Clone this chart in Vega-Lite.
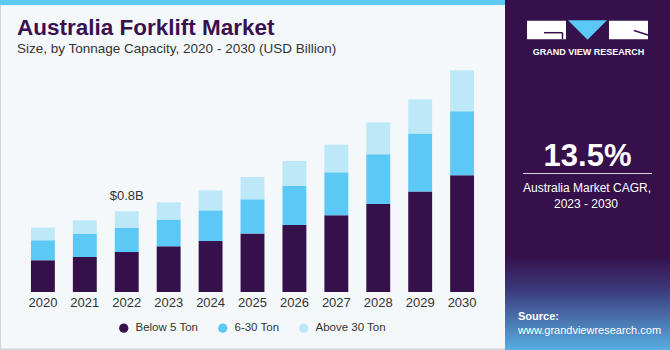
{
  "$schema": "https://vega.github.io/schema/vega-lite/v6.json",
  "width": 485,
  "height": 222,
  "autosize": {"type": "none"},
  "padding": {"left": 10, "top": 70, "right": 175, "bottom": 58},
  "background": "#F4F8FB",
  "config": {"view": {"stroke": null}},
  "datasets": {
    "bars": [
      {"year": "2020", "segment": "Below 5 Ton", "value": 0.314},
      {"year": "2020", "segment": "6-30 Ton", "value": 0.198},
      {"year": "2020", "segment": "Above 30 Ton", "value": 0.126},
      {"year": "2021", "segment": "Below 5 Ton", "value": 0.347},
      {"year": "2021", "segment": "6-30 Ton", "value": 0.228},
      {"year": "2021", "segment": "Above 30 Ton", "value": 0.136},
      {"year": "2022", "segment": "Below 5 Ton", "value": 0.396},
      {"year": "2022", "segment": "6-30 Ton", "value": 0.242},
      {"year": "2022", "segment": "Above 30 Ton", "value": 0.162},
      {"year": "2023", "segment": "Below 5 Ton", "value": 0.453},
      {"year": "2023", "segment": "6-30 Ton", "value": 0.265},
      {"year": "2023", "segment": "Above 30 Ton", "value": 0.171},
      {"year": "2024", "segment": "Below 5 Ton", "value": 0.505},
      {"year": "2024", "segment": "6-30 Ton", "value": 0.304},
      {"year": "2024", "segment": "Above 30 Ton", "value": 0.198},
      {"year": "2025", "segment": "Below 5 Ton", "value": 0.579},
      {"year": "2025", "segment": "6-30 Ton", "value": 0.340},
      {"year": "2025", "segment": "Above 30 Ton", "value": 0.221},
      {"year": "2026", "segment": "Below 5 Ton", "value": 0.664},
      {"year": "2026", "segment": "6-30 Ton", "value": 0.387},
      {"year": "2026", "segment": "Above 30 Ton", "value": 0.248},
      {"year": "2027", "segment": "Below 5 Ton", "value": 0.760},
      {"year": "2027", "segment": "6-30 Ton", "value": 0.426},
      {"year": "2027", "segment": "Above 30 Ton", "value": 0.275},
      {"year": "2028", "segment": "Below 5 Ton", "value": 0.872},
      {"year": "2028", "segment": "6-30 Ton", "value": 0.493},
      {"year": "2028", "segment": "Above 30 Ton", "value": 0.317},
      {"year": "2029", "segment": "Below 5 Ton", "value": 0.995},
      {"year": "2029", "segment": "6-30 Ton", "value": 0.575},
      {"year": "2029", "segment": "Above 30 Ton", "value": 0.340},
      {"year": "2030", "segment": "Below 5 Ton", "value": 1.157},
      {"year": "2030", "segment": "6-30 Ton", "value": 0.634},
      {"year": "2030", "segment": "Above 30 Ton", "value": 0.406}
    ],
    "labels": [{"year": "2022", "total": 0.8, "label": "$0.8B"}],
    "panel": [
      {"key": "title", "text": "Australia Forklift Market"},
      {"key": "subtitle", "text": "Size, by Tonnage Capacity, 2020 - 2030 (USD Billion)"},
      {"key": "brand", "text": "GRAND VIEW RESEARCH"},
      {"key": "cagr", "text": "13.5%"},
      {"key": "cagr1", "text": "Australia Market CAGR,"},
      {"key": "cagr2", "text": "2023 - 2030"},
      {"key": "src1", "text": "Source:"},
      {"key": "src2", "text": "www.grandviewresearch.com"}
    ]
  },
  "layer": [
    {
      "layer": [
        {
          "data": {"values": [{}]},
          "mark": {"type": "rect", "color": "#5BC8F5"},
          "encoding": {
            "x": {"datum": 0, "type": "quantitative", "scale": {"domain": [0, 670], "range": [-10, 660], "nice": false, "zero": false}, "axis": null},
            "x2": {"datum": 505},
            "y": {"datum": 0, "type": "quantitative", "scale": {"domain": [0, 350], "range": [-70, 280], "nice": false, "zero": false}, "axis": null},
            "y2": {"datum": 5}
          }
        },
        {
          "data": {"values": [{}]},
          "mark": {"type": "rect", "color": "#CFD5DA"},
          "encoding": {
            "x": {"datum": 0, "type": "quantitative"},
            "x2": {"datum": 505},
            "y": {"datum": 348.5, "type": "quantitative"},
            "y2": {"datum": 350}
          }
        },
        {
          "data": {"values": [{}]},
          "mark": {"type": "rect", "color": "#CFD5DA"},
          "encoding": {
            "x": {"datum": 0, "type": "quantitative"},
            "x2": {"datum": 1},
            "y": {"datum": 5, "type": "quantitative"},
            "y2": {"datum": 350}
          }
        },
        {
          "data": {"values": [{}]},
          "mark": {"type": "rect", "color": "#36104A"},
          "encoding": {
            "x": {"datum": 505, "type": "quantitative"},
            "x2": {"datum": 670},
            "y": {"datum": 0, "type": "quantitative"},
            "y2": {"datum": 350}
          }
        },
        {
          "data": {"values": [{}]},
          "mark": {
            "type": "rect",
            "fill": {
              "gradient": "linear", "x1": 0, "y1": 0, "x2": 0, "y2": 1,
              "stops": [
                {"offset": 0, "color": "#36104A"},
                {"offset": 0.35, "color": "#3B3778"},
                {"offset": 1, "color": "#58AEE2"}
              ]
            }
          },
          "encoding": {
            "x": {"datum": 505, "type": "quantitative"},
            "x2": {"datum": 670},
            "y": {"datum": 255, "type": "quantitative"},
            "y2": {"datum": 350}
          }
        },
        {
          "data": {"values": [{}]},
          "mark": {"type": "rect", "color": "white"},
          "encoding": {
            "x": {"datum": 527, "type": "quantitative"},
            "x2": {"datum": 566},
            "y": {"datum": 20.7, "type": "quantitative"},
            "y2": {"datum": 39.3}
          }
        },
        {
          "data": {"values": [{}]},
          "mark": {"type": "rect", "color": "white"},
          "encoding": {
            "x": {"datum": 609, "type": "quantitative"},
            "x2": {"datum": 648},
            "y": {"datum": 20.7, "type": "quantitative"},
            "y2": {"datum": 39.3}
          }
        },
        {
          "data": {"values": [{}]},
          "mark": {"type": "point", "filled": true, "color": "#5BC8F5", "opacity": 1, "shape": "M-1,-0.5L1,-0.5L0,0.5Z", "size": 1521},
          "encoding": {
            "x": {"datum": 587.5, "type": "quantitative"},
            "y": {"datum": 30, "type": "quantitative"}
          }
        },
        {
          "data": {"values": [{}]},
          "mark": {"type": "rule", "color": "#36104A", "strokeWidth": 1.5},
          "encoding": {
            "x": {"datum": 544, "type": "quantitative"},
            "x2": {"datum": 562.5},
            "y": {"datum": 32.7, "type": "quantitative"},
            "y2": {"datum": 32.7}
          }
        },
        {
          "data": {"values": [{}]},
          "mark": {"type": "rule", "color": "#36104A", "strokeWidth": 1.5},
          "encoding": {
            "x": {"datum": 562.5, "type": "quantitative"},
            "x2": {"datum": 562.5},
            "y": {"datum": 32.7, "type": "quantitative"},
            "y2": {"datum": 39.3}
          }
        },
        {
          "data": {"values": [{}]},
          "mark": {"type": "rule", "color": "#36104A", "strokeWidth": 1.5},
          "encoding": {
            "x": {"datum": 634, "type": "quantitative"},
            "x2": {"datum": 648},
            "y": {"datum": 30.5, "type": "quantitative"},
            "y2": {"datum": 35}
          }
        },
        {
          "data": {"values": [{}]},
          "mark": {"type": "rule", "color": "#D9D3DE", "strokeWidth": 1},
          "encoding": {
            "x": {"datum": 523, "type": "quantitative"},
            "x2": {"datum": 652},
            "y": {"datum": 173.5, "type": "quantitative"},
            "y2": {"datum": 173.5}
          }
        },
        {
          "data": {"name": "panel"},
          "transform": [{"filter": "datum.key === 'title'"}],
          "mark": {"type": "text", "font": "Liberation Sans", "fontSize": 22.5, "fontWeight": "bold", "color": "#3A1150", "align": "left", "baseline": "alphabetic"},
          "encoding": {
            "x": {"datum": 17, "type": "quantitative"},
            "y": {"datum": 35.3, "type": "quantitative"},
            "text": {"field": "text"}
          }
        },
        {
          "data": {"name": "panel"},
          "transform": [{"filter": "datum.key === 'subtitle'"}],
          "mark": {"type": "text", "font": "Liberation Sans", "fontSize": 13.5, "color": "#333333", "align": "left", "baseline": "alphabetic"},
          "encoding": {
            "x": {"datum": 17, "type": "quantitative"},
            "y": {"datum": 52.5, "type": "quantitative"},
            "text": {"field": "text"}
          }
        },
        {
          "data": {"name": "panel"},
          "transform": [{"filter": "datum.key === 'brand'"}],
          "mark": {"type": "text", "font": "Liberation Sans", "fontSize": 9, "fontWeight": "bold", "letterSpacing": 1.6, "color": "white", "align": "center", "baseline": "alphabetic"},
          "encoding": {
            "x": {"datum": 588.5, "type": "quantitative"},
            "y": {"datum": 54.5, "type": "quantitative"},
            "text": {"field": "text"}
          }
        },
        {
          "data": {"name": "panel"},
          "transform": [{"filter": "datum.key === 'cagr'"}],
          "mark": {"type": "text", "font": "Liberation Sans", "fontSize": 31, "fontWeight": "bold", "color": "white", "align": "center", "baseline": "alphabetic"},
          "encoding": {
            "x": {"datum": 587.5, "type": "quantitative"},
            "y": {"datum": 166, "type": "quantitative"},
            "text": {"field": "text"}
          }
        },
        {
          "data": {"name": "panel"},
          "transform": [{"filter": "datum.key === 'cagr1'"}],
          "mark": {"type": "text", "font": "Liberation Sans", "fontSize": 12, "color": "white", "align": "center", "baseline": "alphabetic"},
          "encoding": {
            "x": {"datum": 587, "type": "quantitative"},
            "y": {"datum": 192, "type": "quantitative"},
            "text": {"field": "text"}
          }
        },
        {
          "data": {"name": "panel"},
          "transform": [{"filter": "datum.key === 'cagr2'"}],
          "mark": {"type": "text", "font": "Liberation Sans", "fontSize": 12, "color": "white", "align": "center", "baseline": "alphabetic"},
          "encoding": {
            "x": {"datum": 586, "type": "quantitative"},
            "y": {"datum": 207.5, "type": "quantitative"},
            "text": {"field": "text"}
          }
        },
        {
          "data": {"name": "panel"},
          "transform": [{"filter": "datum.key === 'src1'"}],
          "mark": {"type": "text", "font": "Liberation Sans", "fontSize": 11, "fontWeight": "bold", "color": "white", "align": "left", "baseline": "alphabetic"},
          "encoding": {
            "x": {"datum": 518, "type": "quantitative"},
            "y": {"datum": 320, "type": "quantitative"},
            "text": {"field": "text"}
          }
        },
        {
          "data": {"name": "panel"},
          "transform": [{"filter": "datum.key === 'src2'"}],
          "mark": {"type": "text", "font": "Liberation Sans", "fontSize": 11, "color": "white", "align": "left", "baseline": "alphabetic"},
          "encoding": {
            "x": {"datum": 518, "type": "quantitative"},
            "y": {"datum": 334, "type": "quantitative"},
            "text": {"field": "text"}
          }
        }
      ]
    },
    {
      "layer": [
        {
          "data": {"name": "bars"},
          "transform": [
            {"calculate": "indexof(['Below 5 Ton', '6-30 Ton', 'Above 30 Ton'], datum.segment)", "as": "stackOrder"}
          ],
          "mark": {"type": "bar"},
          "encoding": {
            "x": {
              "field": "year", "type": "nominal",
              "scale": {"paddingInner": 0.43, "paddingOuter": 0.5},
              "axis": {"orient": "bottom", "title": null, "labelAngle": 0, "domain": false, "ticks": false, "grid": false, "labelFont": "Liberation Sans", "labelFontSize": 13, "labelColor": "#333333", "labelPadding": 4}
            },
            "y": {
              "field": "value", "type": "quantitative", "stack": "zero",
              "scale": {"domain": [0, 2.2], "nice": false, "zero": true},
              "axis": null
            },
            "order": {"field": "stackOrder", "type": "quantitative", "sort": "ascending"},
            "color": {
              "field": "segment", "type": "nominal",
              "sort": ["Below 5 Ton", "6-30 Ton", "Above 30 Ton"],
              "scale": {"domain": ["Below 5 Ton", "6-30 Ton", "Above 30 Ton"], "range": ["#36104A", "#5BC8F5", "#BDE8F8"]},
              "legend": {
                "orient": "none", "legendX": 108, "legendY": 252, "direction": "horizontal",
                "title": null, "symbolType": "circle", "symbolSize": 85, "symbolStrokeWidth": 0,
                "labelFont": "Liberation Sans", "labelFontSize": 11.5, "labelColor": "#333333",
                "labelOffset": 6, "columnPadding": 18
              }
            }
          }
        },
        {
          "data": {"name": "labels"},
          "mark": {"type": "text", "font": "Liberation Sans", "fontSize": 13, "color": "#333333", "baseline": "alphabetic", "dy": -11},
          "encoding": {
            "x": {"field": "year", "type": "nominal"},
            "y": {"field": "total", "type": "quantitative"},
            "text": {"field": "label"}
          }
        }
      ]
    }
  ],
  "resolve": {"scale": {"x": "independent", "y": "independent"}}
}
